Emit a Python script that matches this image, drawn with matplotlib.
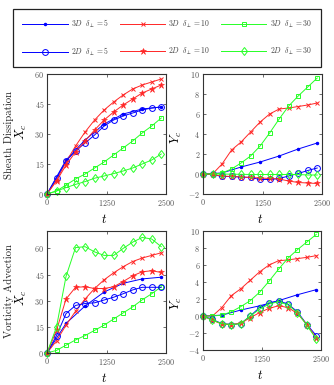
import matplotlib
matplotlib.use("Agg")
import matplotlib.pyplot as plt
import numpy as np

plt.rcParams['font.family'] = ['cmr10', 'DejaVu Serif']
plt.rcParams['mathtext.fontset'] = 'cm'
plt.rcParams['axes.formatter.use_mathtext'] = True
plt.rcParams['axes.unicode_minus'] = True

# ---------------- data ----------------
t2 = [0, 200, 400, 600, 800, 1000, 1200, 1400, 1600, 1800, 2000, 2200, 2400]
t3_5 = [0, 400, 800, 1200, 1600, 2000, 2400]

# 3D runs (same in both rows)
x_3d5 = [0, 17, 27, 35, 40, 42.5, 43.5]
x_3d10 = [0, 7, 16, 24, 31, 37, 42, 46, 49.5, 52.5, 54.5, 56, 57.5]
x_3d30 = [0, 1.5, 4.5, 7.5, 10, 13, 16, 19.5, 23, 26.5, 30.5, 34, 38]
y_3d5 = [0, 0.1, 0.7, 1.2, 1.8, 2.5, 3.1]
y_3d10 = [0, 0, 1.0, 2.4, 3.2, 4.2, 5.2, 6.0, 6.5, 6.6, 6.75, 6.9, 7.1]
y_3d30 = [0, 0, 0.1, 0.5, 1.1, 1.8, 2.8, 4.1, 5.5, 6.8, 7.8, 8.7, 9.6]

# 2D sheath dissipation
sd_x_2d5 = [0, 8, 16.5, 21.5, 25.5, 29.5, 34, 37, 39, 40.5, 42, 43, 43.5]
sd_x_2d10 = [0, 6.5, 14.5, 21, 26.5, 32, 37, 41, 44.5, 47.5, 50.5, 52.5, 54.5]
sd_x_2d30 = [0, 1.5, 3.2, 4.8, 6.2, 7.9, 9, 10.2, 11.5, 13, 15, 17, 20]
sd_y_2d5 = [0, -0.05, -0.25, -0.25, -0.3, -0.35, -0.55, -0.55, -0.45, -0.2, 0.05, 0.35, 0.6]
sd_y_2d10 = [0, -0.05, -0.2, -0.25, -0.3, -0.35, -0.4, -0.45, -0.5, -0.7, -0.85, -0.9, -0.95]
sd_y_2d30 = [0, 0, 0, -0.02, -0.03, -0.05, -0.05, -0.05, -0.05, -0.05, -0.05, -0.1, -0.1]

# 2D vorticity advection
va_x_2d5 = [0, 10, 22.6, 27.3, 28.4, 28.8, 30.4, 32, 34, 36.2, 37.7, 37.7, 37.7]
va_x_2d10 = [0, 13, 31, 37.7, 38, 37, 37, 38, 41, 44.3, 46.6, 47.2, 46.2]
va_x_2d30 = [0, 15, 44, 60.5, 61, 58, 56, 56, 60, 63.6, 66.3, 65.4, 61]
va_y_2d5 = [0, -0.4, -0.9, -1.0, -0.9, 0.0, 1.0, 1.5, 1.8, 1.4, 0.5, -1.0, -2.3]
va_y_2d10 = [0, -0.5, -0.95, -1.0, -0.85, -0.2, 0.4, 0.9, 1.2, 1.0, 0.3, -1.0, -2.6]
va_y_2d30 = [0, -0.5, -0.9, -1.0, -0.9, 0.0, 0.8, 1.4, 1.7, 1.3, 0.4, -1.1, -2.7]

xticks = [0, 1250, 2500]
row_labels = ['Sheath Dissipation', 'Vorticity Advection']

BLUE = (0, 0, 1)
RED = (1, 0.15, 0.15)
GREEN = (0.15, 1, 0.15)
LW = 0.7

styles = {
    '3d5': dict(color=BLUE, marker='.', ms=3, mfc=BLUE),
    '3d10': dict(color=RED, marker='x', ms=3.2, mew=0.7),
    '3d30': dict(color=GREEN, marker='s', ms=3.4, mfc='none', mew=0.7),
    '2d5': dict(color=BLUE, marker='o', ms=4.2, mfc='none', mew=0.7),
    '2d10': dict(color=RED, marker='*', ms=4.5, mfc=RED, mew=0.4),
    '2d30': dict(color=GREEN, marker='d', ms=4.5, mfc='none', mew=0.7),
}

W, H = 334, 385
fig = plt.figure(figsize=(W / 100, H / 100), dpi=100)


def px_axes(x0, y0, x1, y1):
    return fig.add_axes([x0 / W, 1 - y1 / H, (x1 - x0) / W, (y1 - y0) / H])


ax_tl = px_axes(47, 74, 166, 194)
ax_tr = px_axes(203, 74, 322, 194)
ax_bl = px_axes(47, 231, 166, 353)
ax_br = px_axes(203, 231, 321, 350)

handles = {}


def plot_panel(ax, s3, s2, ylab, ylim, yticks, labcoords, tlab):
    h = {}
    h['3d5'], = ax.plot(t3_5, s3[0], lw=LW, **styles['3d5'])
    h['3d10'], = ax.plot(t2, s3[1], lw=LW, **styles['3d10'])
    h['3d30'], = ax.plot(t2, s3[2], lw=LW, **styles['3d30'])
    h['2d5'], = ax.plot(t2, s2[0], lw=LW, **styles['2d5'])
    h['2d10'], = ax.plot(t2, s2[1], lw=LW, **styles['2d10'])
    h['2d30'], = ax.plot(t2, s2[2], lw=LW, **styles['2d30'])
    for ln in h.values():
        ln.set_clip_on(False)
    ax.set_xlim(0, 2500)
    ax.set_ylim(*ylim)
    ax.set_xticks(xticks)
    ax.set_yticks(yticks)
    ax.tick_params(direction='in', top=True, right=True, labelsize=5.8,
                   length=2.5, width=0.5, pad=2, colors='#333333',
                   labelcolor='#555555')
    for sp in ax.spines.values():
        sp.set_linewidth(0.8)
        sp.set_color('#333333')
    ax.set_ylabel(ylab, fontsize=9)
    ax.yaxis.set_label_coords(*labcoords)
    ax.set_xlabel(r'$t$', fontsize=9)
    ax.xaxis.set_label_coords(*tlab)
    return h


handles = plot_panel(ax_tl, [x_3d5, x_3d10, x_3d30], [sd_x_2d5, sd_x_2d10, sd_x_2d30],
                     r'$X_c$', (0, 60), [0, 15, 30, 45, 60], (-0.15, 0.52), (0.48, -0.158))
plot_panel(ax_tr, [y_3d5, y_3d10, y_3d30], [sd_y_2d5, sd_y_2d10, sd_y_2d30],
           r'$Y_c$', (-2, 10), [-2, 0, 2, 4, 6, 8, 10], (-0.16, 0.475), (0.48, -0.158))
plot_panel(ax_bl, [x_3d5, x_3d10, x_3d30], [va_x_2d5, va_x_2d10, va_x_2d30],
           r'$X_c$', (0, 70), [0, 15, 30, 45, 60], (-0.15, 0.45), (0.48, -0.157))
plot_panel(ax_br, [y_3d5, y_3d10, y_3d30], [va_y_2d5, va_y_2d10, va_y_2d30],
           r'$Y_c$', (-4, 10), [-4, -2, 0, 2, 4, 6, 8, 10], (-0.16, 0.395), (0.48, -0.16))

# row labels
fig.text(9 / W, 1 - 135 / H, row_labels[0], rotation=90, ha='center', va='center',
         fontsize=7.8, color='#222222')
fig.text(9 / W, 1 - 291 / H, row_labels[1], rotation=90, ha='center', va='center',
         fontsize=7.8, color='#222222')

# legend
order = ['3d5', '2d5', '3d10', '2d10', '3d30', '2d30']
labels = {
    '3d5': r'$3D\ \ \delta_{\perp}=5$',
    '3d10': r'$3D\ \ \delta_{\perp}=10$',
    '3d30': r'$3D\ \ \delta_{\perp}=30$',
    '2d5': r'$2D\ \ \delta_{\perp}=5$',
    '2d10': r'$2D\ \ \delta_{\perp}=10$',
    '2d30': r'$2D\ \ \delta_{\perp}=30$',
}
leg = fig.legend([handles[k] for k in order], [labels[k] for k in order], ncol=3,
                 loc='upper left', bbox_to_anchor=(13.3 / W, 1 - 9 / H, 307.4 / W, 0.0),
                 mode='expand', borderaxespad=0, fontsize=5.5, handlelength=6.0,
                 labelspacing=2.0, borderpad=1.2, handletextpad=0.4, columnspacing=1.0,
                 fancybox=False, framealpha=1, edgecolor='#222222')
leg.get_frame().set_linewidth(0.9)
for txt in leg.get_texts():
    txt.set_color('#444444')

fig.savefig('out.png', dpi=100)
